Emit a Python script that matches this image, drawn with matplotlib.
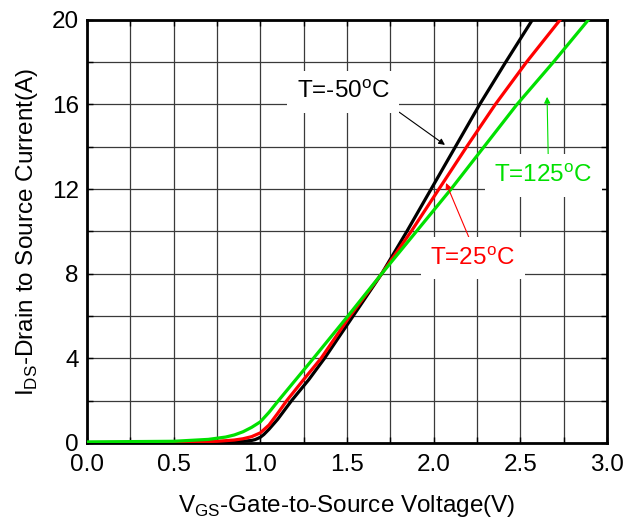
import numpy as np
import matplotlib
matplotlib.use("Agg")
import matplotlib.pyplot as plt

plt.rcParams["font.family"] = ["Liberation Sans", "DejaVu Sans"]
plt.rcParams["mathtext.fontset"] = "custom"
plt.rcParams["mathtext.rm"] = "Liberation Sans"

# Transfer characteristics
vgs_m50 = [0, 0.5, 0.8, 0.9, 0.95, 0.97, 1.0, 1.02, 1.05, 1.1, 1.18, 1.28, 1.37, 1.535,
           1.70, 1.845, 1.985, 2.125, 2.265, 2.415, 2.569]
ids_m50 = [0, 0.02, 0.05, 0.08, 0.12, 0.16, 0.27, 0.4, 0.65, 1.12, 2, 3, 4, 6,
           8, 10, 12, 14, 16, 18, 20]

vgs_25 = [0, 0.5, 0.75, 0.85, 0.9, 0.95, 1.0, 1.05, 1.1, 1.152, 1.25, 1.35, 1.517,
          1.70, 1.87, 2.03, 2.19, 2.355, 2.535, 2.729]
ids_25 = [0.02, 0.04, 0.08, 0.14, 0.2, 0.3, 0.48, 0.85, 1.4, 2, 3, 4, 6,
          8, 10, 12, 14, 16, 18, 20]

vgs_125 = [0, 0.5, 0.7, 0.8, 0.85, 0.9, 0.95, 1.0, 1.05, 1.104, 1.205, 1.306, 1.505,
           1.70, 1.90, 2.10, 2.29, 2.48, 2.69, 2.892]
ids_125 = [0.05, 0.08, 0.17, 0.28, 0.38, 0.53, 0.74, 1.0, 1.45, 2, 3, 4, 6,
           8, 10, 12, 14, 16, 18, 20]

x_ticks = [0.0, 0.5, 1.0, 1.5, 2.0, 2.5, 3.0]
y_ticks = [0, 4, 8, 12, 16, 20]

fig = plt.figure(figsize=(6.35, 5.23), dpi=100)
ax = fig.add_axes([0.137, 0.153, 0.819, 0.809])

ax.set_xlim(0, 3.0)
ax.set_ylim(0, 20)
ax.set_xticks(x_ticks)
ax.set_xticklabels([f"{v:.1f}" for v in x_ticks])
ax.set_yticks(y_ticks)
ax.set_xticks(np.arange(0, 3.01, 0.25), minor=True)
ax.set_yticks(np.arange(0, 20.1, 2), minor=True)
ax.grid(which="both", color="#3a3a3a", linewidth=0.9)
ax.set_axisbelow(True)

ax.tick_params(which="both", direction="in", top=True, right=True, labelsize=17.5,
               length=4, width=1.0)
ax.tick_params(axis="x", pad=8)
ax.tick_params(axis="y", pad=6)
for s in ax.spines.values():
    s.set_linewidth(2.0)

ax.plot(vgs_m50, ids_m50, color="black", lw=2.3, zorder=3)
ax.plot(vgs_25, ids_25, color="#ff0000", lw=2.3, zorder=4)
ax.plot(vgs_125, ids_125, color="#00e000", lw=2.3, zorder=5)

box = dict(facecolor="white", edgecolor="none", pad=7)
deg = r"$^{\mathregular{o}}$"

# labels with arrows
ax.annotate("T=-50" + deg + "C", xy=(2.065, 14.09), xytext=(1.477, 16.6),
            ha="center", va="center", fontsize=17.5, color="black", bbox=box, zorder=6,
            arrowprops=dict(arrowstyle="-|>", color="black", lw=0.8, mutation_scale=9,
                            shrinkA=0, shrinkB=0, relpos=(0.97, 0.0)))
ax.annotate("T=125" + deg + "C", xy=(2.654, 16.36), xytext=(2.633, 12.64),
            ha="center", va="center", fontsize=17.5, color="#00e000", bbox=box, zorder=6,
            arrowprops=dict(arrowstyle="-|>", color="#00e000", lw=0.8, mutation_scale=9,
                            shrinkA=0, shrinkB=0, relpos=(0.55, 1.0)))
ax.annotate("T=25" + deg + "C", xy=(2.071, 12.29), xytext=(2.226, 8.73),
            ha="center", va="center", fontsize=17.5, color="#ff0000", bbox=box, zorder=6,
            arrowprops=dict(arrowstyle="-|>", color="#ff0000", lw=0.8, mutation_scale=9,
                            shrinkA=0, shrinkB=0, relpos=(0.5, 1.0)))

ax.set_xlabel(r"V$_{\mathregular{GS}}$-Gate-to-Source Voltage(V)", fontsize=17.5, labelpad=12)
ax.set_ylabel(r"I$_{\mathregular{DS}}$-Drain to Source Current(A)", fontsize=17.5, labelpad=8)

fig.savefig("out.png", dpi=100)
